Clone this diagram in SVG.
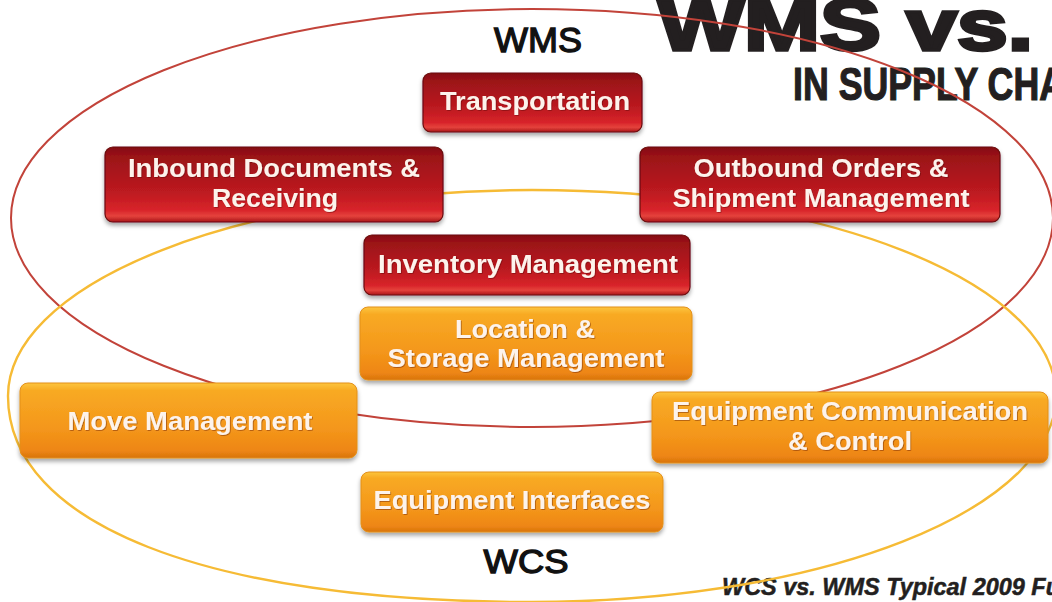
<svg xmlns="http://www.w3.org/2000/svg" width="1052" height="602" viewBox="0 0 1052 602">
<style>
  .title{font-family:"Liberation Sans",Arial,sans-serif;font-weight:bold;fill:#231f20;stroke:#231f20}
  .lbl{font-family:"Liberation Sans",Arial,sans-serif;fill:#111;stroke:#111;stroke-width:1.3;text-anchor:middle}
  .red{fill:url(#rg);stroke:#6a0b0e;stroke-width:1.2}
  .org{fill:url(#og);stroke:#e3901c;stroke-width:1}
  .bt{font-family:"Liberation Sans",Arial,sans-serif;font-weight:bold;font-size:26px;fill:#fdf3ec;text-anchor:middle;filter:url(#ts)}
  .ring{fill:none}
</style>
<defs>
  <linearGradient id="rg" x1="0" y1="0" x2="0" y2="1">
    <stop offset="0" stop-color="#840b10"/>
    <stop offset="0.12" stop-color="#9a1218"/>
    <stop offset="0.6" stop-color="#bd1a20"/>
    <stop offset="0.84" stop-color="#d8242a"/>
    <stop offset="0.92" stop-color="#e5423c"/>
    <stop offset="1" stop-color="#a9151a"/>
  </linearGradient>
  <linearGradient id="og" x1="0" y1="0" x2="0" y2="1">
    <stop offset="0" stop-color="#fcc53c"/>
    <stop offset="0.1" stop-color="#f8aa24"/>
    <stop offset="0.6" stop-color="#f4971b"/>
    <stop offset="0.9" stop-color="#ee8613"/>
    <stop offset="1" stop-color="#d8740f"/>
  </linearGradient>
  <filter id="sh" x="-5%" y="-10%" width="110%" height="130%">
    <feDropShadow dx="0" dy="3" stdDeviation="2" flood-color="#000" flood-opacity="0.35"/>
  </filter>
  <filter id="ts" x="-5%" y="-20%" width="110%" height="140%">
    <feDropShadow dx="0.8" dy="0.8" stdDeviation="0.7" flood-color="#400" flood-opacity="0.45"/>
  </filter>
</defs>
<rect width="1052" height="602" fill="#ffffff"/>

<g id="titles">
  <text class="title" x="658" y="50" font-size="72" stroke-width="3.5" textLength="375" lengthAdjust="spacingAndGlyphs">WMS vs.</text>
  <text class="title" x="793" y="100" font-size="46" stroke-width="1.2" textLength="272" lengthAdjust="spacingAndGlyphs">IN SUPPLY CHA</text>
  <text class="title" x="722" y="595" font-size="23" font-style="italic" stroke-width="0.5" textLength="338" lengthAdjust="spacingAndGlyphs">WCS vs. WMS Typical 2009 Fu</text>
</g>

<g id="connectors">
  <ellipse id="wms-set" class="ring" cx="532" cy="218" rx="521" ry="209" stroke="#c2433a" stroke-width="2"/>
  <path id="wcs-set" class="ring" d="M532 190 A524 206 0 0 1 1056 396 A524 206 0 0 1 532 602 C207 602 8 524 8 396 A524 206 0 0 1 532 190 Z" stroke="#f6bb35" stroke-width="2.4"/>
</g>

<g id="transportation">
  <rect class="red" x="423" y="73" width="219" height="59" rx="8" filter="url(#sh)"/>
  <text class="bt" x="535" y="110" textLength="190" lengthAdjust="spacingAndGlyphs">Transportation</text>
</g>
<g id="inbound">
  <rect class="red" x="105" y="147" width="338" height="75" rx="8" filter="url(#sh)"/>
  <text class="bt" x="274" y="177" textLength="292" lengthAdjust="spacingAndGlyphs">Inbound Documents &amp;</text>
  <text class="bt" x="275" y="207" textLength="126" lengthAdjust="spacingAndGlyphs">Receiving</text>
</g>
<g id="outbound">
  <rect class="red" x="640" y="147" width="360" height="75" rx="8" filter="url(#sh)"/>
  <text class="bt" x="821" y="177" textLength="255" lengthAdjust="spacingAndGlyphs">Outbound Orders &amp;</text>
  <text class="bt" x="821" y="207" textLength="297" lengthAdjust="spacingAndGlyphs">Shipment Management</text>
</g>
<g id="inventory">
  <rect class="red" x="364" y="235" width="326" height="60" rx="8" filter="url(#sh)"/>
  <text class="bt" x="528" y="273" textLength="300" lengthAdjust="spacingAndGlyphs">Inventory Management</text>
</g>
<g id="location">
  <rect class="org" x="360" y="307" width="332" height="73" rx="8" filter="url(#sh)"/>
  <text class="bt" x="525" y="338" textLength="140" lengthAdjust="spacingAndGlyphs">Location &amp;</text>
  <text class="bt" x="526" y="367" textLength="277" lengthAdjust="spacingAndGlyphs">Storage Management</text>
</g>
<g id="move">
  <rect class="org" x="20" y="383" width="337" height="75" rx="8" filter="url(#sh)"/>
  <text class="bt" x="190" y="430" textLength="245" lengthAdjust="spacingAndGlyphs">Move Management</text>
</g>
<g id="equip-comm">
  <rect class="org" x="652" y="392" width="396" height="71" rx="8" filter="url(#sh)"/>
  <text class="bt" x="850" y="420" textLength="356" lengthAdjust="spacingAndGlyphs">Equipment Communication</text>
  <text class="bt" x="850" y="450" textLength="124" lengthAdjust="spacingAndGlyphs">&amp; Control</text>
</g>
<g id="equip-if">
  <rect class="org" x="361" y="472" width="302" height="60" rx="8" filter="url(#sh)"/>
  <text class="bt" x="512" y="509" textLength="277" lengthAdjust="spacingAndGlyphs">Equipment Interfaces</text>
</g>

<g id="labels">
  <text class="lbl" x="538" y="52" font-size="35" textLength="88" lengthAdjust="spacingAndGlyphs">WMS</text>
  <text class="lbl" x="526" y="573" font-size="33" textLength="85" lengthAdjust="spacingAndGlyphs">WCS</text>
</g>
</svg>
